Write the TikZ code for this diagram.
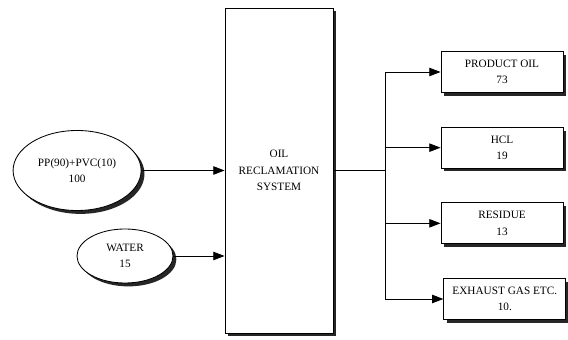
\documentclass[tikz,border=0pt]{standalone}
\usepackage{fontspec}
\setmainfont{Liberation Serif}
\usetikzlibrary{arrows.meta,positioning,shapes.geometric,shadows}
\tikzset{
  hardshadow/.style={drop shadow={shadow xshift=2.4pt, shadow yshift=-2.4pt, fill=black!85, opacity=1}},
  unitbox/.style={draw, line width=0.6pt, fill=white, align=center, minimum width=2.7cm, minimum height=8.125cm, hardshadow},
  feed/.style={ellipse, draw, line width=0.6pt, fill=white, align=center, inner sep=0pt, hardshadow},
  product/.style={draw, line width=0.6pt, fill=white, align=center, minimum width=3.05cm, minimum height=1.02cm, hardshadow},
  arrow/.style={-{Triangle[length=8pt,width=6pt]}, line width=0.6pt}
}

\begin{document}
\begin{tikzpicture}[x=0.025cm, y=-0.025cm, font=\fontsize{8}{11.5}\selectfont, node distance=8.5mm]
  \useasboundingbox (0,0) rectangle (568,340);
  \node[unitbox] (sys) at (279,170.5) {OIL\\RECLAMATION\\SYSTEM};
  \node[feed, minimum width=3.2cm, minimum height=2cm, left=2.075cm of sys] (mix) {PP(90)+PVC(10)\\100};
  \node[feed, minimum width=2.4cm, minimum height=1.35cm] (water) at (125,256) {WATER\\15};
  \coordinate[right=1.3cm of sys] (split);
  \node[product] (oil) at (502,72) {PRODUCT OIL\\73};
  \node[product, below=of oil] (hcl) {HCL\\19};
  \node[product, below=of hcl] (residue) {RESIDUE\\13};
  \node[product, below=of residue, xshift=2pt] (exhaust) {EXHAUST GAS ETC.\\10.};

  \draw[arrow] (mix) -- (sys);
  \draw[arrow] (water) -- (water -| sys.west);
  \draw[line width=0.6pt] (sys) -- (split);
  \draw[line width=0.6pt] (split |- oil) -- (split |- exhaust);
  \foreach \n in {oil,hcl,residue,exhaust}
    \draw[arrow] (split |- \n) -- (\n);
\end{tikzpicture}
\end{document}
